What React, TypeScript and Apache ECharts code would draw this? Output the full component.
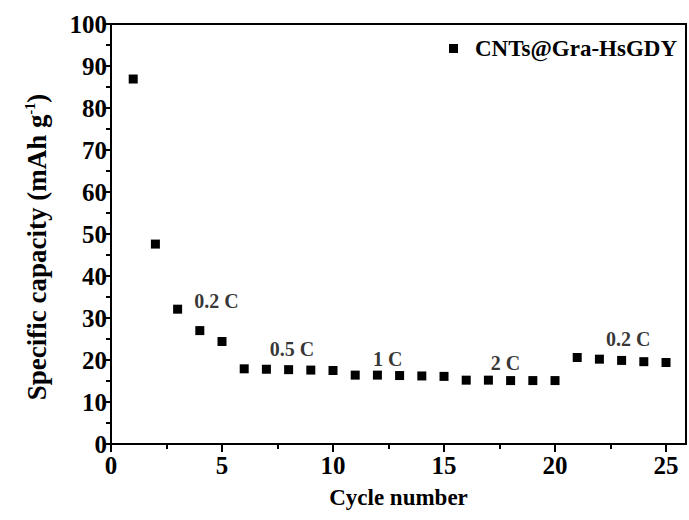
import React, { useEffect, useRef } from "react";
import * as echarts from "echarts";

const cycles = [1, 2, 3, 4, 5, 6, 7, 8, 9, 10, 11, 12, 13, 14, 15, 16, 17, 18, 19, 20, 21, 22, 23, 24, 25];
const capacity = [86.9, 47.6, 32.1, 27.0, 24.4, 17.9, 17.8, 17.7, 17.6, 17.5, 16.4, 16.4, 16.3, 16.2, 16.1, 15.2, 15.2, 15.1, 15.1, 15.1, 20.6, 20.2, 19.9, 19.6, 19.4];
const seriesName = "CNTs@Gra-HsGDY";
const rateLabels = ["0.2 C", "0.5 C", "1 C", "2 C", "0.2 C"];
const rateLabelX = [3.75, 7.15, 11.8, 17.1, 22.3];
const rateLabelY = [34.0, 22.6, 20.3, 19.4, 25.0];
const xMajorTicks = [0, 5, 10, 15, 20, 25];
const xMinorTicks = [2.5, 7.5, 12.5, 17.5, 22.5];

const FONT = "'Liberation Serif', 'Times New Roman', serif";

export default function App() {
  const ref = useRef<HTMLDivElement>(null);
  useEffect(() => {
    if (!ref.current) return;
    const chart = echarts.init(ref.current, null, { renderer: "svg" });
    const axisLine = { show: true, lineStyle: { color: "#000", width: 2 } };
    chart.setOption({
      animation: false,
      backgroundColor: "#fff",
      grid: {
        left: 111,
        right: 3,
        top: 24,
        bottom: 76,
        show: true,
        borderColor: "#000",
        borderWidth: 2,
      },
      legend: {
        data: [{ name: seriesName, icon: "rect" }],
        left: 444,
        top: 32,
        itemWidth: 9,
        itemHeight: 9,
        textStyle: {
          fontFamily: FONT,
          fontWeight: "bold",
          fontSize: 23,
          color: "#000",
          padding: [0, 0, 0, 12],
        },
      },
      xAxis: [
        {
          type: "value",
          min: 0,
          max: 25.9,
          interval: 5,
          name: "Cycle number",
          nameLocation: "middle",
          nameGap: 42,
          nameTextStyle: { fontFamily: FONT, fontWeight: "bold", fontSize: 23, color: "#000" },
          axisLine,
          splitLine: { show: false },
          axisTick: { show: true, length: 8, lineStyle: { color: "#000", width: 2 }, customValues: xMajorTicks },
          axisLabel: {
            customValues: xMajorTicks,
            fontFamily: FONT,
            fontWeight: "bold",
            fontSize: 25,
            color: "#000",
            margin: 9,
          },
        },
        {
          type: "value",
          min: 0,
          max: 25.9,
          position: "bottom",
          axisLine: { show: false },
          splitLine: { show: false },
          axisLabel: { show: false, customValues: xMinorTicks },
          axisTick: { show: true, length: 5, lineStyle: { color: "#000", width: 2 }, customValues: xMinorTicks },
        },
      ],
      yAxis: {
        type: "value",
        min: 0,
        max: 100,
        interval: 10,
        name: "{t|Specific capacity (mAh g}{s|-1}{t|)}",
        nameLocation: "middle",
        nameGap: 61,
        nameTextStyle: {
          padding: [0, 26, 0, 0],
          rich: {
            t: { fontFamily: FONT, fontWeight: "bold", fontSize: 27, color: "#000" },
            s: { fontFamily: FONT, fontWeight: "bold", fontSize: 14, color: "#000", verticalAlign: "top", padding: [0, 0, 12, 0] },
          },
        },
        axisLine,
        splitLine: { show: false },
        axisTick: { show: true, length: 8, lineStyle: { color: "#000", width: 2 } },
        minorTick: { show: true, splitNumber: 2, length: 5, lineStyle: { color: "#000", width: 2 } },
        axisLabel: { fontFamily: FONT, fontWeight: "bold", fontSize: 25, color: "#000", margin: 4 },
      },
      series: [
        {
          name: seriesName,
          type: "scatter",
          symbol: "rect",
          symbolSize: 9,
          itemStyle: { color: "#000", opacity: 1 },
          data: cycles.map((c, i) => [c, capacity[i]]),
        },
        {
          name: "labels",
          type: "scatter",
          symbolSize: 0,
          silent: true,
          data: rateLabels.map((t, i) => ({ name: t, value: [rateLabelX[i], rateLabelY[i]] })),
          label: {
            show: true,
            position: "right",
            distance: 0,
            formatter: (p: any) => p.name,
            fontFamily: FONT,
            fontWeight: "bold",
            fontSize: 20,
            color: "#000",
          },
        },
      ],
    });
    return () => chart.dispose();
  }, []);
  return <div ref={ref} style={{ position: "fixed", left: 0, top: 0, width: 689, height: 520 }} />;
}
